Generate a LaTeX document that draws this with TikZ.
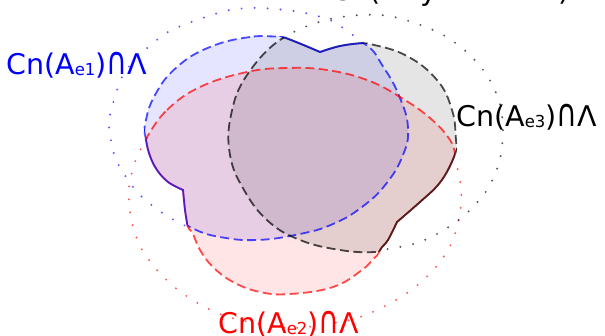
\documentclass[tikz,border=0pt]{standalone}
\usepackage{fontspec}
\setmainfont{DejaVu Sans}
\usetikzlibrary{calc}

\tikzset{
  region/.style={fill=#1, fill opacity=0.1},
  rim/.style={draw=#1, draw opacity=0.7, line width=1.8pt, dash pattern=on 9pt off 4.5pt},
  outrim/.style={draw=#1, draw opacity=0.65, line width=2.2pt, line cap=round, dash pattern=on 0pt off 13pt},
  lambdaline/.style={draw=#1, draw opacity=0.65, line width=1.8pt},
  lbl/.style={font=\fontsize{28.5}{34}\selectfont, inner sep=0pt, anchor=base west}
}
\newcommand{\esub}[1]{\raisebox{-1pt}{\fontsize{16.5}{17}\selectfont e#1}}
\newcommand{\capsym}{\scalebox{1}[1.35]{∩}}

% the big set Lambda, three lobes with kinks
\def\lambdapath{plot[smooth, tension=0.6] coordinates {(183,190) (168,182) (157,170) (150,156) (146,140) (143,115) (150,85) (175,55) (210,37) (250,28) (283,37) (320,52)}
  -- plot[smooth, tension=0.6] coordinates {(320,52) (340,46) (363,43) (390,42) (430,55) (458,85) (466,118) (460,140) (450,166) (438,185) (420,202) (397,222)}
  -- plot[smooth, tension=0.6] coordinates {(397,222) (388,240) (380,250) (374,265) (360,288) (330,305) (270,308) (222,292) (200,275) (190,252) (188,230) (185,210) (183,190)} -- cycle}
% the three sets
\def\bluepath{plot[smooth cycle, tension=0.75] coordinates {(283,36) (250,37) (210,47) (177,67) (155,95) (145,125) (144,152) (150,172) (163,196) (178,217) (194,229) (220,237) (257,240) (300,234) (333,224) (362,207) (386,184) (403,155) (408,128) (400,98) (384,68) (363,43) (320,30)}}
\def\redpath{plot[smooth cycle, tension=0.7] coordinates {(147,137) (167,110) (200,87) (247,72) (287,68) (327,70) (367,80) (400,97) (430,118) (450,140) (456,158) (462,182) (445,215) (412,240) (381,253) (362,270) (333,287) (290,294) (260,292) (233,282) (213,267) (200,250) (191,231) (178,220) (162,198) (146,170) (141,150)}}
\def\blackpath{plot[smooth cycle, tension=0.7] coordinates {(283,38) (320,30) (363,42) (405,55) (437,80) (452,110) (456,140) (457,170) (450,200) (430,230) (400,247) (375,252) (340,250) (300,240) (268,221) (244,190) (230,155) (231,115) (247,75)}}

\begin{document}
\begin{tikzpicture}[x=1pt, y=-1pt]
  \useasboundingbox (0,0) rectangle (605,336);

  % parts inside Lambda
  \begin{scope}
    \clip \lambdapath;
    \path[region=blue] \bluepath;
    \path[region=red] \redpath;
    \path[region=black] \blackpath;
    \draw[rim=blue] \bluepath;
    \draw[rim=red] \redpath;
    \draw[rim=black] \blackpath;
  \end{scope}

  % border of Lambda inside each set
  \foreach \setpath/\setcol in {\redpath/red, \blackpath/black, \bluepath/blue}{
    \begin{scope}
      \clip \setpath;
      \draw[lambdaline=\setcol] \lambdapath;
    \end{scope}
  }

  % parts outside Lambda
  \draw[outrim=blue] plot[smooth] coordinates {(363,43) (350,33) (330,20) (300,12) (260,8) (230,10) (197,20) (168,32) (143,52) (123,75) (112,107) (109,127) (115,157) (126,177) (138,193) (154,207) (172,219) (190,228)};
  \draw[outrim=red] plot[smooth] coordinates {(147,138) (136,159) (129,188) (131,218) (140,246) (157,270) (178,290) (203,306) (232,318) (290,328) (340,322) (363,316) (389,304) (414,288) (436,267) (452,242) (460,213) (461,187) (455,158)};
  \draw[outrim=black] plot[smooth] coordinates {(283,38) (302,28) (330,19) (360,15) (389,16) (418,24) (445,36) (469,54) (488,77) (500,104) (503,133) (499,163) (487,190) (467,213) (444,230) (417,243) (388,249) (380,250)};

  % labels
  \node[lbl, text=blue] (lblone) at (6,75) {Cn(A\esub{1})\capsym Λ};
  \node[lbl, text=red] (lbltwo) at (218,334) {Cn(A\esub{2})\capsym Λ};
  \node[lbl, text=black] (lblthree) at (456,127) {Cn(A\esub{3})\capsym Λ};
  \node[lbl, text=black] (lbltop) at (331,1) {Cn(Λ∪y∪Λ∪A∪Λ)};
\end{tikzpicture}
\end{document}
